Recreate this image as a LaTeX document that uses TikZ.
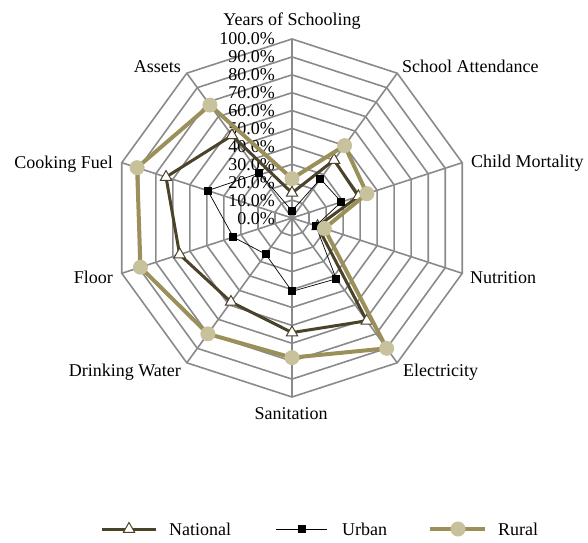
\documentclass[tikz,border=0pt]{standalone}
\usepackage{fontspec}
\setmainfont{Liberation Serif}
\usetikzlibrary{shapes.geometric}
\definecolor{gridgray}{HTML}{8A8A8A}
\definecolor{natcol}{HTML}{4B4329}
\definecolor{rurline}{HTML}{9B8F5A}
\definecolor{rurfill}{HTML}{C8C29C}
\begin{document}
\begin{tikzpicture}[x=1pt,y=1pt,
  lbl/.style={font=\fontsize{18}{20}\selectfont, inner sep=0pt, text height=12pt, text depth=0pt},
  gridline/.style={draw=gridgray, line width=1.6pt, line join=miter},
  natline/.style={draw=natcol, line width=3pt, line join=miter},
  urbline/.style={draw=black, line width=0.7pt},
  rurline/.style={draw=rurline, line width=4pt, line join=miter},
  natmark/.style={regular polygon, regular polygon sides=3, minimum size=13pt, inner sep=0pt, draw=natcol, line width=1pt, fill=white},
  urbmark/.style={rectangle, minimum size=8pt, inner sep=0pt, fill=black},
  rurmark/.style={circle, minimum size=15pt, inner sep=0pt, fill=rurfill}
]
\useasboundingbox (0,0) rectangle (588,542);
\begin{scope}[shift={(292,324)}]
  % grid rings
  \foreach \k in {1,...,10}
    \draw[gridline] (90:{\k*17.9}) \foreach \i in {1,...,9}{ -- ({90-36*\i}:{\k*17.9})} -- cycle;
  % spokes
  \foreach \i in {0,...,9}
    \draw[gridline] (0,0) -- ({90-36*\i}:179);
  % tick labels
  \foreach \k/\t in {0/0.0,1/10.0,2/20.0,3/30.0,4/40.0,5/50.0,6/60.0,7/70.0,8/80.0,9/90.0,10/100.0}
    \node[lbl, anchor=east] (T\k) at (-17,{\k*17.9}) {\t\%};
  % data coordinates
  \foreach \v [count=\i from 0] in {14,40,39,15,71,64,58,66,74,57}
    \coordinate (N\i) at ({90-36*\i}:{\v*1.79});
  \foreach \v [count=\i from 0] in {4,27,29,14,42,41,25,34.5,49.5,31}
    \coordinate (U\i) at ({90-36*\i}:{\v*1.79});
  \foreach \v [count=\i from 0] in {22,50,44,19,90,78,80,89,91,78}
    \coordinate (R\i) at ({90-36*\i}:{\v*1.79});
  % series
  \draw[natline] (N0) \foreach \i in {1,...,9}{ -- (N\i)} -- cycle;
  \foreach \i in {0,...,9} \node[natmark] (NM\i) at (N\i) {};
  \draw[urbline] (U0) \foreach \i in {1,...,9}{ -- (U\i)} -- cycle;
  \foreach \i in {0,...,9} \node[urbmark] (UM\i) at (U\i) {};
  \draw[rurline] (R0) \foreach \i in {1,...,9}{ -- (R\i)} -- cycle;
  \foreach \i in {0,...,9} \node[rurmark] (RM\i) at (R\i) {};
\end{scope}
% category labels
\node[lbl, anchor=center] (c0) at (292,522) {Years of Schooling};
\node[lbl, anchor=west] (c1) at (402,475) {School Attendance};
\node[lbl, anchor=west] (c2) at (471,381) {Child Mortality};
\node[lbl, anchor=west] (c3) at (470,265) {Nutrition};
\node[lbl, anchor=west] (c4) at (403,172) {Electricity};
\node[lbl, anchor=center] (c5) at (291,129) {Sanitation};
\node[lbl, anchor=east] (c6) at (181,172) {Drinking Water};
\node[lbl, anchor=east] (c7) at (113,265) {Floor};
\node[lbl, anchor=east] (c8) at (113,380) {Cooking Fuel};
\node[lbl, anchor=east] (c9) at (181,475) {Assets};
% legend
\coordinate (LN1) at (102,13); \coordinate (LN2) at (156,13);
\draw[natline] (LN1) -- (LN2);
\node[natmark] (LNm) at (129,13) {};
\node[lbl, anchor=west] (LNt) at (169,13) {National};
\coordinate (LU1) at (276,13); \coordinate (LU2) at (327,13);
\draw[urbline] (LU1) -- (LU2);
\node[urbmark] (LUm) at (302,13) {};
\node[lbl, anchor=west] (LUt) at (342,13) {Urban};
\coordinate (LR1) at (430,13); \coordinate (LR2) at (485,13);
\draw[rurline] (LR1) -- (LR2);
\node[rurmark] (LRm) at (458,13) {};
\node[lbl, anchor=west] (LRt) at (498,13) {Rural};
\end{tikzpicture}
\end{document}
